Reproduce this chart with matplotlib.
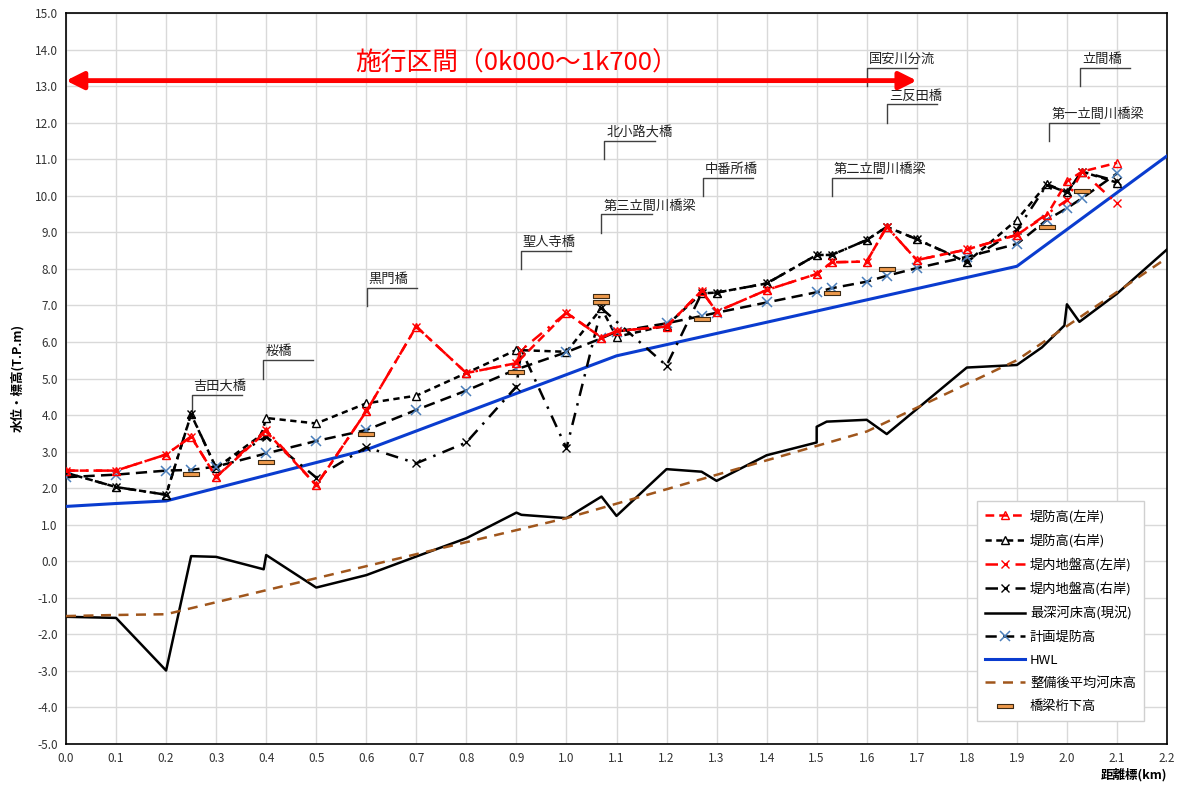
import matplotlib
matplotlib.use("Agg")
import matplotlib.pyplot as plt
import numpy as np

plt.rcParams['font.family'] = ['Noto Sans CJK JP', 'DejaVu Sans']

# ---- data (距離標 km / 標高 T.P.m) ----
dl_x = [0.0, 0.1, 0.2, 0.25, 0.3, 0.4, 0.5, 0.6, 0.7, 0.8, 0.9, 1.0, 1.07, 1.1, 1.2, 1.27, 1.3,
        1.4, 1.5, 1.53, 1.6, 1.64, 1.7, 1.8, 1.9, 1.96, 2.0, 2.03, 2.1]
dl_y = [2.48, 2.48, 2.92, 3.41, 2.30, 3.55, 2.08, 4.10, 6.42, 5.15, 5.42, 6.80, 6.12, 6.30, 6.42, 7.40, 6.83,
        7.42, 7.86, 8.18, 8.20, 9.15, 8.24, 8.53, 8.93, 9.47, 10.39, 10.66, 10.90]

dr_x = [0.0, 0.1, 0.2, 0.25, 0.3, 0.39, 0.4, 0.5, 0.6, 0.7, 0.8, 0.9, 1.0, 1.07, 1.1, 1.2, 1.27, 1.3,
        1.4, 1.5, 1.53, 1.6, 1.64, 1.7, 1.8, 1.9, 1.96, 2.0, 2.03, 2.1]
dr_y = [2.42, 2.03, 1.82, 4.02, 2.55, 3.45, 3.92, 3.77, 4.32, 4.53, 5.15, 5.78, 5.73, 6.92, 6.14, 6.45, 7.33, 7.35,
        7.60, 8.38, 8.38, 8.79, 9.15, 8.81, 8.18, 9.34, 10.32, 10.09, 10.66, 10.36]

gl_x = [0.0, 0.1, 0.2, 0.25, 0.3, 0.4, 0.5, 0.6, 0.7, 0.8, 0.9, 0.91, 1.0, 1.07, 1.1, 1.2, 1.27, 1.3,
        1.4, 1.5, 1.53, 1.6, 1.64, 1.7, 1.8, 1.9, 2.0, 2.03, 2.1]
gl_y = [2.48, 2.48, 2.92, 3.41, 2.30, 3.60, 2.08, 4.10, 6.42, 5.15, 5.42, 5.78, 6.80, 6.12, 6.30, 6.42, 7.40, 6.83,
        7.42, 7.86, 8.18, 8.20, 9.15, 8.24, 8.53, 8.93, 9.88, 10.66, 9.79]

gr_x = [0.0, 0.1, 0.2, 0.25, 0.3, 0.4, 0.5, 0.6, 0.7, 0.8, 0.9, 0.91, 1.0, 1.07, 1.2, 1.27, 1.3,
        1.4, 1.5, 1.53, 1.6, 1.64, 1.7, 1.8, 1.9, 1.96, 2.0, 2.03, 2.1]
gr_y = [2.42, 2.03, 1.82, 4.03, 2.55, 3.41, 2.29, 3.12, 2.68, 3.25, 4.78, 5.78, 3.09, 6.92, 5.35, 7.33, 7.35,
        7.60, 8.38, 8.38, 8.79, 9.15, 8.81, 8.20, 9.06, 10.30, 10.09, 10.66, 10.40]

bed_x = [0.0, 0.1, 0.2, 0.25, 0.3, 0.395, 0.4, 0.5, 0.6, 0.7, 0.8, 0.9, 0.91, 1.0, 1.07, 1.1, 1.2, 1.27, 1.3,
         1.4, 1.5, 1.5, 1.52, 1.6, 1.64, 1.8, 1.9, 1.95, 1.995, 2.0, 2.025, 2.1, 2.2]
bed_y = [-1.52, -1.55, -2.99, 0.14, 0.12, -0.22, 0.17, -0.72, -0.38, 0.13, 0.63, 1.33, 1.27, 1.18, 1.77, 1.24, 2.52, 2.45, 2.20,
         2.90, 3.25, 3.68, 3.82, 3.87, 3.48, 5.30, 5.37, 5.85, 6.45, 7.03, 6.55, 7.32, 8.53]

plan_x = [0.0, 0.1, 0.2, 0.25, 0.3, 0.4, 0.5, 0.6, 0.7, 0.8, 0.9, 1.0, 1.07, 1.1, 1.2, 1.27, 1.3,
          1.4, 1.5, 1.53, 1.6, 1.64, 1.7, 1.8, 1.9, 1.96, 2.0, 2.03, 2.1]
plan_y = [2.30, 2.37, 2.48, 2.50, 2.59, 2.95, 3.29, 3.59, 4.14, 4.67, 5.25, 5.72, 6.10, 6.28, 6.51, 6.71, 6.80,
          7.08, 7.36, 7.47, 7.65, 7.81, 8.02, 8.33, 8.68, 9.34, 9.66, 9.93, 10.61]

hwl_x = [0.0, 0.1, 0.2, 0.6, 1.1, 1.9, 2.2]
hwl_y = [1.50, 1.58, 1.65, 3.05, 5.62, 8.07, 11.09]

avg_x = [0.0, 0.1, 0.2, 1.0, 1.6, 1.9, 2.2]
avg_y = [-1.50, -1.47, -1.45, 1.18, 3.55, 5.50, 8.30]

girder_x = [0.25, 0.4, 0.6, 0.9, 1.07, 1.07, 1.27, 1.53, 1.64, 1.96, 2.03]
girder_y = [2.38, 2.71, 3.48, 5.19, 7.27, 7.10, 6.63, 7.33, 8.00, 9.15, 10.14]

bridge_names = ['吉田大橋', '桜橋', '黒門橋', '聖人寺橋', '第三立間川橋梁', '北小路大橋', '中番所橋',
                '第二立間川橋梁', '国安川分流', '三反田橋', '第一立間川橋梁', '立間橋']
bridge_lx = [0.251, 0.394, 0.601, 0.909, 1.07, 1.076, 1.272, 1.53, 1.60, 1.641, 1.965, 2.027]
bridge_ly = [4.06, 5.00, 6.98, 7.99, 8.99, 11.00, 9.99, 9.99, 13.00, 12.00, 11.50, 13.00]

# ---- figure ----
fig = plt.figure(figsize=(11.84, 7.87), dpi=100)
ax = fig.add_axes([66 / 1184, 1 - 744 / 787, 1101 / 1184, 731 / 787])

lw = 1.8
ax.plot(dl_x, dl_y, color='red', lw=lw, ls=(0, (3.5, 2)), marker='^', ms=6, mfc='none', mec='red',
        mew=1, label='堤防高(左岸)', zorder=5)
ax.plot(dr_x, dr_y, color='black', lw=lw, ls=(0, (2.5, 1.8)), marker='^', ms=6, mfc='white', mec='black',
        mew=1, label='堤防高(右岸)', zorder=4)
ax.plot(gl_x, gl_y, color='red', lw=lw, ls=(0, (5, 3, 1, 3)), marker='x', ms=6, mec='red',
        mew=1, label='堤内地盤高(左岸)', zorder=5)
ax.plot(gr_x, gr_y, color='black', lw=lw, ls=(0, (5, 3, 1, 3)), marker='x', ms=6, mec='black',
        mew=1, label='堤内地盤高(右岸)', zorder=4)
ax.plot(bed_x, bed_y, color='black', lw=lw, label='最深河床高(現況)', zorder=3)
ax.plot(plan_x, plan_y, color='black', lw=lw, ls=(0, (4.5, 2.5)), marker='x', ms=7, mec='#4a7ebb',
        mew=1.1, label='計画堤防高', zorder=4)
ax.plot(hwl_x, hwl_y, color='#0a3ccf', lw=2.2, label='HWL', zorder=3)
ax.plot(avg_x, avg_y, color='#a0561c', lw=lw, ls=(0, (4, 3)), label='整備後平均河床高', zorder=3)
bar = [(-1, -0.3), (1, -0.3), (1, 0.3), (-1, 0.3), (-1, -0.3)]
ax.plot(girder_x, girder_y, ls='none', marker=bar, ms=11, mfc='#ee9a4c', mec='#3d2a14', mew=0.8,
        label='橋梁桁下高', zorder=6)

# bridge callouts
for name, bx, by in zip(bridge_names, bridge_lx, bridge_ly):
    ax.plot([bx, bx, bx + 0.1], [by, by + 0.5, by + 0.5], color='#404040', lw=1, zorder=2)
    ax.text(bx + 0.004, by + 0.55, name, fontsize=9.5, ha='left', va='bottom', color='#222222')

# construction section arrow
ax.annotate('', xy=(0.0, 13.15), xytext=(1.7, 13.15),
            arrowprops=dict(arrowstyle='<|-|>', color='red', lw=3.5, mutation_scale=26,
                            shrinkA=0, shrinkB=0))
ax.text(0.9, 13.62, '施行区間（0k000～1k700）', color='red', fontsize=18.5, ha='center', va='center')

ax.set_xlim(0, 2.2)
ax.set_ylim(-5, 15)
ax.set_xticks(np.arange(0, 2.21, 0.1))
ax.set_yticks(np.arange(-5, 15.1, 1.0))
ax.set_xticklabels([f'{v:.1f}' for v in np.arange(0, 2.21, 0.1)])
ax.set_yticklabels([f'{v:.1f}' for v in np.arange(-5, 15.1, 1.0)])
ax.tick_params(labelsize=8.5, length=0, pad=6, colors='#333333')
ax.grid(True, color='#d9d9d9', lw=1)
ax.set_axisbelow(True)
for s in ax.spines.values():
    s.set_color('black')
    s.set_linewidth(1.2)

fig.text(18 / 1184, 1 - 378 / 787, '水位・標高(T.P.m)', rotation=90, fontsize=9, fontweight='bold',
         ha='center', va='center')
fig.text(1167 / 1184, 1 - 775 / 787, '距離標(km)', fontsize=9, fontweight='bold', ha='right', va='center')

leg = ax.legend(loc='lower right', bbox_to_anchor=(0.985, 0.022), fontsize=9.5, handlelength=3,
                labelspacing=0.78, borderpad=0.6, handletextpad=0.4, fancybox=False,
                edgecolor='#d0d0d0', framealpha=1)
leg.get_frame().set_linewidth(1)

fig.savefig('out.png', dpi=100)
